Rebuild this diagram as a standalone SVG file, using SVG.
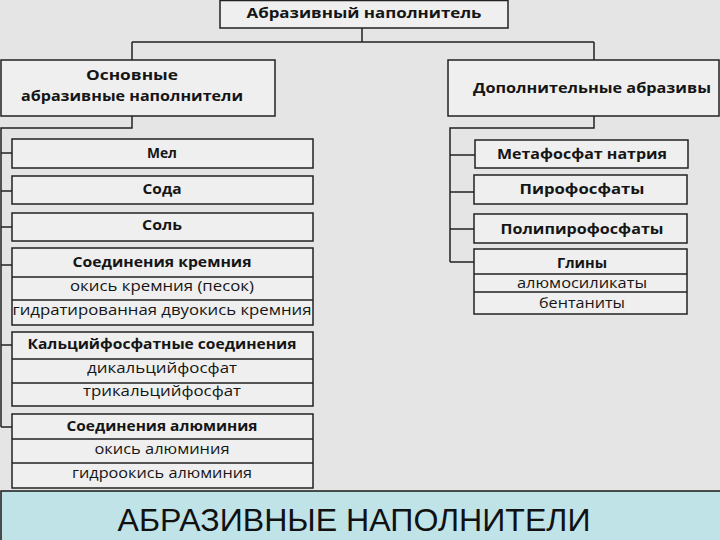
<svg xmlns="http://www.w3.org/2000/svg" width="720" height="540" viewBox="0 0 720 540">
<style>
.bg{fill:#e5e5e5}
.box{fill:#efefef;stroke:#222;stroke-width:1.5}
.ln{stroke:#222;stroke-width:1.5;fill:none}
.t{font-family:"Open Sans","DejaVu Sans",sans-serif;fill:#151515;text-anchor:middle;font-size:15px}
.b{font-weight:700}
.r{font-weight:400}
.bar{fill:#bfe3e7;stroke:#1a1a1a;stroke-width:1.5}
.bt{font-family:"Liberation Sans",Arial,sans-serif;font-size:32px;fill:#111;text-anchor:middle}
</style>
<rect class="bg" x="0" y="0" width="720" height="540"/>

<g id="connectors">
<path class="ln" d="M362,28 V42 M132,42 H594 M132,42 V60 M594,42 V60"/>
<path class="ln" d="M132,116 V128 H1 V427 M1,153 H12 M1,191 H12 M1,227 H12 M1,265 H12 M1,345 H12 M1,427 H12"/>
<path class="ln" d="M594,116 V128 H450 V262 M450,155 H475 M450,192 H474 M450,229 H474 M450,262 H474"/>
</g>

<g id="root">
<rect class="box" x="220" y="0.5" width="288" height="27.5"/>
<text class="t b" x="364" y="18" font-size="16" textLength="235" lengthAdjust="spacingAndGlyphs">Абразивный наполнитель</text>
</g>

<g id="main">
<rect class="box" x="1" y="60" width="274" height="56"/>
<text class="t b" x="132" y="80" font-size="16" textLength="92" lengthAdjust="spacingAndGlyphs">Основные</text>
<text class="t b" x="132" y="101" font-size="16" textLength="222" lengthAdjust="spacingAndGlyphs">абразивные наполнители</text>
</g>

<g id="extra">
<rect class="box" x="448" y="60" width="271" height="56"/>
<text class="t b" x="592" y="93" font-size="16" textLength="238" lengthAdjust="spacingAndGlyphs">Дополнительные абразивы</text>
</g>

<g id="mel">
<rect class="box" x="12" y="139" width="301" height="29"/>
<text class="t b" x="162" y="158" textLength="30" lengthAdjust="spacingAndGlyphs">Мел</text>
</g>
<g id="soda">
<rect class="box" x="12" y="176" width="301" height="28"/>
<text class="t b" x="162" y="194" textLength="39" lengthAdjust="spacingAndGlyphs">Сода</text>
</g>
<g id="sol">
<rect class="box" x="12" y="213" width="301" height="28"/>
<text class="t b" x="162" y="230" textLength="40" lengthAdjust="spacingAndGlyphs">Соль</text>
</g>
<g id="silicon">
<rect class="box" x="12" y="248" width="301" height="77"/>
<path class="ln" d="M12,277 H313 M12,300 H313"/>
<text class="t b" x="162" y="267" textLength="179" lengthAdjust="spacingAndGlyphs">Соединения кремния</text>
<text class="t r" x="162" y="291" textLength="184" lengthAdjust="spacingAndGlyphs">окись кремния (песок)</text>
<text class="t r" x="162" y="315" textLength="299" lengthAdjust="spacingAndGlyphs">гидратированная двуокись кремния</text>
</g>
<g id="calcium">
<rect class="box" x="12" y="332" width="301" height="74"/>
<path class="ln" d="M12,359 H313 M12,383 H313"/>
<text class="t b" x="162" y="349" textLength="269" lengthAdjust="spacingAndGlyphs">Кальцийфосфатные соединения</text>
<text class="t r" x="162" y="373" textLength="150" lengthAdjust="spacingAndGlyphs">дикальцийфосфат</text>
<text class="t r" x="162" y="396" textLength="158" lengthAdjust="spacingAndGlyphs">трикальцийфосфат</text>
</g>
<g id="aluminium">
<rect class="box" x="12" y="414" width="301" height="74"/>
<path class="ln" d="M12,439 H313 M12,463 H313"/>
<text class="t b" x="162" y="431" textLength="191" lengthAdjust="spacingAndGlyphs">Соединения алюминия</text>
<text class="t r" x="162" y="454" textLength="135" lengthAdjust="spacingAndGlyphs">окись алюминия</text>
<text class="t r" x="162" y="478" textLength="180" lengthAdjust="spacingAndGlyphs">гидроокись алюминия</text>
</g>

<g id="metaphosphate">
<rect class="box" x="475" y="140" width="213" height="28"/>
<text class="t b" x="582" y="159" textLength="170" lengthAdjust="spacingAndGlyphs">Метафосфат натрия</text>
</g>
<g id="pyrophosphates">
<rect class="box" x="474" y="175" width="213" height="29"/>
<text class="t b" x="582" y="194" textLength="125" lengthAdjust="spacingAndGlyphs">Пирофосфаты</text>
</g>
<g id="polypyrophosphates">
<rect class="box" x="474" y="214" width="213" height="29"/>
<text class="t b" x="582" y="234" textLength="163" lengthAdjust="spacingAndGlyphs">Полипирофосфаты</text>
</g>
<g id="clays">
<rect class="box" x="474" y="249" width="213" height="65"/>
<path class="ln" d="M474,274 H687 M474,292 H687"/>
<text class="t b" x="582" y="268" textLength="50" lengthAdjust="spacingAndGlyphs">Глины</text>
<text class="t r" x="582" y="288" textLength="130" lengthAdjust="spacingAndGlyphs">алюмосиликаты</text>
<text class="t r" x="582" y="308" textLength="86" lengthAdjust="spacingAndGlyphs">бентаниты</text>
</g>

<g id="caption">
<rect class="bar" x="1" y="491" width="720" height="50"/>
<text class="bt" x="354" y="531" textLength="473" lengthAdjust="spacingAndGlyphs">АБРАЗИВНЫЕ НАПОЛНИТЕЛИ</text>
</g>
</svg>
